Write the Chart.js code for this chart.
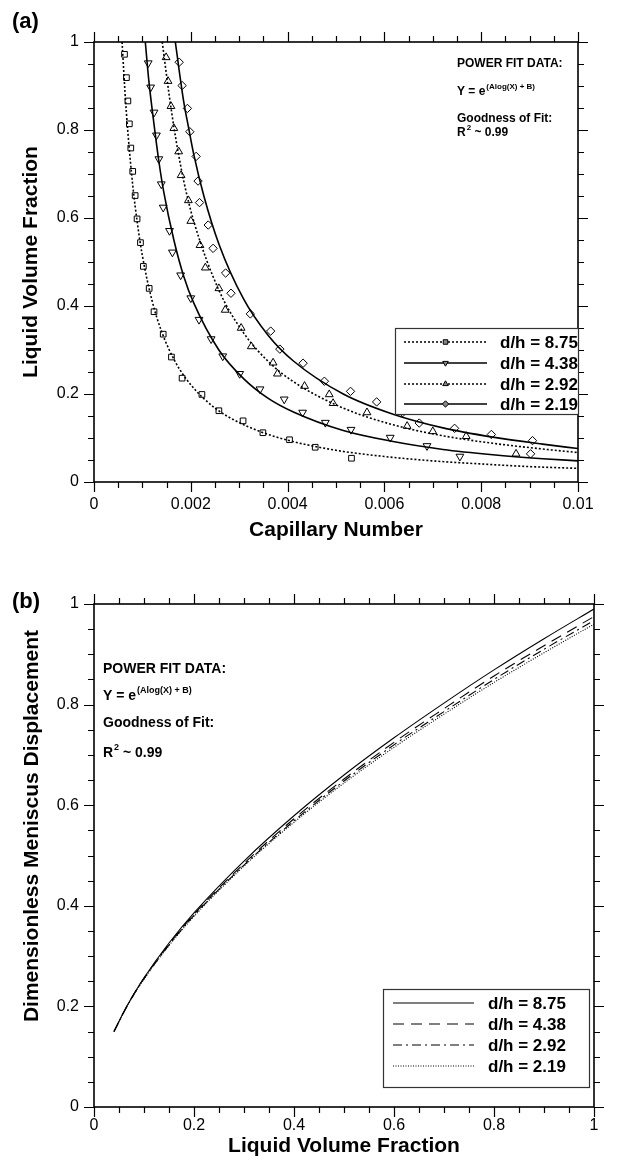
<!DOCTYPE html>
<html>
<head>
<meta charset="utf-8">
<script src="https://cdn.jsdelivr.net/npm/chart.js@4.4.1/dist/chart.umd.min.js"></script>
<style>
  html, body { margin: 0; padding: 0; background: #fff; }
  #chartA { position: absolute; left: 0; top: 0; }
  #chartB { position: absolute; left: 0; top: 560px; }
</style>
</head>
<body>
<canvas id="chartA" width="633" height="560"></canvas>
<canvas id="chartB" width="633" height="603"></canvas>
<script>
// ---- panel (a): liquid volume fraction vs capillary number ----
// power fit curves
const fitX875 = [0.00058, 0.00064, 0.0007, 0.0008, 0.0009, 0.001, 0.0012, 0.0014, 0.0017, 0.002, 0.0025, 0.003, 0.0035, 0.004, 0.005, 0.006, 0.007, 0.008, 0.009, 0.01];
const fitY875 = [1.0, 0.887, 0.795, 0.675, 0.585, 0.514, 0.412, 0.341, 0.269, 0.221, 0.168, 0.135, 0.112, 0.095, 0.072, 0.058, 0.048, 0.041, 0.035, 0.031];
const fitX438 = [0.00106, 0.00113, 0.00124, 0.00134, 0.00144, 0.00165, 0.00185, 0.00206, 0.00258, 0.00309, 0.0036, 0.00412, 0.00515, 0.00618, 0.00721, 0.00824, 0.00927, 0.01];
const fitY438 = [1.0, 0.915, 0.813, 0.729, 0.660, 0.550, 0.469, 0.407, 0.300, 0.235, 0.190, 0.159, 0.117, 0.092, 0.074, 0.062, 0.053, 0.048];
const fitX292 = [0.00141, 0.00155, 0.00165, 0.00175, 0.00185, 0.00206, 0.00258, 0.00309, 0.0036, 0.00412, 0.00515, 0.00618, 0.00721, 0.00824, 0.00927, 0.01];
const fitY292 = [1.0, 0.882, 0.807, 0.743, 0.686, 0.593, 0.436, 0.339, 0.274, 0.228, 0.168, 0.130, 0.105, 0.088, 0.075, 0.067];
const fitX219 = [0.00168, 0.00185, 0.00196, 0.00206, 0.00227, 0.00258, 0.00309, 0.0036, 0.00412, 0.00515, 0.00618, 0.00721, 0.00824, 0.00927, 0.01];
const fitY219 = [1.0, 0.867, 0.802, 0.745, 0.650, 0.541, 0.416, 0.333, 0.275, 0.200, 0.154, 0.123, 0.102, 0.086, 0.076];

// measured points
const ptsX875 = [0.00063, 0.00067, 0.0007, 0.00073, 0.00076, 0.0008, 0.00085, 0.00089, 0.00096, 0.00102, 0.00114, 0.00124, 0.00143, 0.0016, 0.00182, 0.00223, 0.00258, 0.00308, 0.00349, 0.00404, 0.00457, 0.00532];
const ptsY875 = [0.972, 0.919, 0.866, 0.814, 0.759, 0.706, 0.651, 0.598, 0.544, 0.49, 0.44, 0.387, 0.336, 0.284, 0.236, 0.199, 0.162, 0.139, 0.112, 0.096, 0.079, 0.054];
const ptsX438 = [0.00112, 0.00117, 0.00124, 0.00129, 0.00134, 0.00139, 0.00143, 0.00156, 0.00162, 0.00179, 0.002, 0.00217, 0.00242, 0.00266, 0.00301, 0.00343, 0.00393, 0.00431, 0.00478, 0.00531, 0.00612, 0.00688, 0.00756];
const ptsY438 = [0.952, 0.897, 0.84, 0.788, 0.734, 0.677, 0.624, 0.571, 0.522, 0.47, 0.418, 0.369, 0.325, 0.286, 0.246, 0.211, 0.188, 0.158, 0.135, 0.119, 0.101, 0.082, 0.058];
const ptsX292 = [0.00149, 0.00153, 0.00159, 0.00165, 0.00175, 0.0018, 0.00195, 0.002, 0.00219, 0.0023, 0.00258, 0.00271, 0.00304, 0.00325, 0.0037, 0.00379, 0.00435, 0.00486, 0.00494, 0.00564, 0.00647, 0.007, 0.00769, 0.00872];
const ptsY292 = [0.965, 0.911, 0.854, 0.804, 0.751, 0.697, 0.64, 0.593, 0.538, 0.487, 0.44, 0.391, 0.35, 0.308, 0.271, 0.246, 0.218, 0.199, 0.179, 0.158, 0.127, 0.115, 0.104, 0.064];
const ptsX219 = [0.00176, 0.00182, 0.00193, 0.00198, 0.00211, 0.00215, 0.00218, 0.00236, 0.00246, 0.00272, 0.00283, 0.00323, 0.00365, 0.00384, 0.00432, 0.00476, 0.0053, 0.00584, 0.00638, 0.00672, 0.00745, 0.00821, 0.00906, 0.00902];
const ptsY219 = [0.954, 0.901, 0.849, 0.796, 0.74, 0.684, 0.635, 0.584, 0.531, 0.475, 0.429, 0.382, 0.343, 0.302, 0.27, 0.229, 0.206, 0.182, 0.158, 0.134, 0.122, 0.108, 0.094, 0.064];

// ---- panel (b): meniscus displacement vs liquid volume fraction ----
const lvfX = [0.04, 0.06, 0.08, 0.1, 0.15, 0.2, 0.3, 0.4, 0.5, 0.6, 0.7, 0.8, 0.9, 1.0];
const disp875 = [0.150, 0.190, 0.225, 0.257, 0.326, 0.386, 0.489, 0.579, 0.660, 0.734, 0.803, 0.869, 0.931, 0.990];
const disp438 = [0.150, 0.190, 0.225, 0.256, 0.324, 0.383, 0.484, 0.573, 0.652, 0.725, 0.792, 0.857, 0.917, 0.975];
const disp292 = [0.150, 0.189, 0.224, 0.255, 0.322, 0.381, 0.481, 0.569, 0.648, 0.720, 0.786, 0.850, 0.910, 0.967];
const disp219 = [0.150, 0.189, 0.224, 0.254, 0.321, 0.379, 0.479, 0.566, 0.644, 0.715, 0.781, 0.844, 0.903, 0.960];

const seriesLabels = ['d/h = 8.75', 'd/h = 4.38', 'd/h = 2.92', 'd/h = 2.19'];

const FONT = "'Liberation Sans', Arial, Helvetica, sans-serif";

function xy(xs, ys) {
    return xs.map((x, i) => ({ x: x, y: ys[i] }));
}

function fmt(v) {
    return String(+v.toFixed(4));
}

// box, outward major/minor ticks on all four sides
const frameTicks = {
    id: 'frameTicks',
    afterDraw(chart, args, o) {
        const { ctx, chartArea: a } = chart;
        const x = chart.scales.x, y = chart.scales.y;
        ctx.save();
        ctx.strokeStyle = '#000';
        ctx.lineWidth = 1.2;
        ctx.beginPath();
        const nx = Math.round((x.max - x.min) / o.xMinor);
        for (let i = 0; i <= nx; i++) {
            const px = Math.round(x.getPixelForValue(x.min + i * o.xMinor)) + 0.5;
            const len = i % o.xEvery === 0 ? 10 : 6;
            ctx.moveTo(px, a.bottom); ctx.lineTo(px, a.bottom + len);
            ctx.moveTo(px, a.top); ctx.lineTo(px, a.top - len);
        }
        const ny = Math.round((y.max - y.min) / o.yMinor);
        for (let i = 0; i <= ny; i++) {
            const py = Math.round(y.getPixelForValue(y.min + i * o.yMinor)) + 0.5;
            const len = i % o.yEvery === 0 ? 10 : 6;
            ctx.moveTo(a.left, py); ctx.lineTo(a.left - len, py);
            ctx.moveTo(a.right, py); ctx.lineTo(a.right + len, py);
        }
        ctx.stroke();
        ctx.lineWidth = 1.6;
        ctx.strokeRect(a.left, a.top, a.right - a.left, a.bottom - a.top);
        ctx.restore();
    }
};

// panel letter, fit annotation, optional side title and boxed legend
const notes = {
    id: 'notes',
    afterDraw(chart, args, o) {
        const ctx = chart.ctx;
        ctx.save();
        ctx.fillStyle = '#000';
        ctx.textBaseline = 'alphabetic';
        ctx.textAlign = 'left';
        ctx.font = 'bold 22px ' + FONT;
        ctx.fillText(o.panel, 12, o.panelY);

        if (o.sideTitle) {
            ctx.save();
            ctx.translate(o.sideTitle.x, o.sideTitle.y);
            ctx.rotate(-Math.PI / 2);
            ctx.textAlign = 'center';
            ctx.textBaseline = 'middle';
            ctx.font = 'bold ' + o.sideTitle.size + 'px ' + FONT;
            ctx.fillText(o.sideTitle.text, 0, 0);
            ctx.restore();
        }

        o.lines.forEach(line => {
            let cx = line.x;
            line.parts.forEach(p => {
                ctx.font = 'bold ' + p.s + 'px ' + FONT;
                ctx.fillText(p.t, cx, line.y - (p.rise || 0));
                cx += ctx.measureText(p.t).width + (p.gap || 0);
            });
        });

        const L = o.legend;
        ctx.fillStyle = '#fff';
        ctx.fillRect(L.box[0], L.box[1], L.box[2] - L.box[0], L.box[3] - L.box[1]);
        ctx.strokeStyle = '#333';
        ctx.lineWidth = 1.2;
        ctx.strokeRect(L.box[0] + 0.5, L.box[1] + 0.5, L.box[2] - L.box[0], L.box[3] - L.box[1]);
        L.items.forEach((it, i) => {
            const ry = L.rows[i];
            const ds = chart.data.datasets[it.line];
            ctx.save();
            ctx.strokeStyle = ds.borderColor;
            ctx.lineWidth = ds.borderWidth;
            ctx.setLineDash(ds.borderDash || []);
            ctx.beginPath();
            ctx.moveTo(L.from, ry);
            ctx.lineTo(L.to, ry);
            ctx.stroke();
            ctx.restore();
            if (it.marker !== undefined) {
                const m = chart.data.datasets[it.marker];
                ctx.save();
                ctx.strokeStyle = '#000';
                ctx.fillStyle = '#888';
                ctx.lineWidth = 1;
                Chart.helpers.drawPoint(ctx, {
                    pointStyle: m.pointStyle,
                    rotation: m.pointRotation || 0,
                    radius: 3.2,
                    borderWidth: 1
                }, (L.from + L.to) / 2, ry);
                ctx.restore();
            }
            ctx.fillStyle = '#000';
            ctx.font = 'bold 17px ' + FONT;
            ctx.textBaseline = 'middle';
            ctx.fillText(seriesLabels[i], L.textX, ry + 1);
            ctx.textBaseline = 'alphabetic';
        });
        ctx.restore();
    }
};

function fitLine(xs, ys, dash, width) {
    return {
        data: xy(xs, ys),
        borderColor: '#000',
        borderWidth: width,
        borderDash: dash,
        pointRadius: 0,
        cubicInterpolationMode: 'monotone',
        fill: false
    };
}

function marks(xs, ys, style, rot, r) {
    return {
        data: xy(xs, ys),
        showLine: false,
        pointStyle: style,
        pointRotation: rot,
        pointRadius: r,
        pointBorderWidth: 1,
        pointBorderColor: '#000',
        pointBackgroundColor: 'rgba(255,255,255,0)'
    };
}

function axisX(min, max, step, title, height, tickPad, titlePad) {
    return {
        type: 'linear', min: min, max: max,
        afterFit: s => { s.height = height; },
        grid: { display: false, drawTicks: false },
        border: { display: false },
        ticks: { stepSize: step, padding: tickPad, maxRotation: 0, color: '#000', font: { family: FONT, size: 16 }, callback: fmt },
        title: { display: true, text: title, color: '#000', font: { family: FONT, size: 21, weight: 'bold' }, padding: { top: 0, bottom: titlePad } }
    };
}

function axisY(title) {
    return {
        type: 'linear', min: 0, max: 1,
        afterFit: s => { s.width = 94; },
        grid: { display: false, drawTicks: false },
        border: { display: false },
        ticks: { stepSize: 0.2, padding: 15, color: '#000', font: { family: FONT, size: 16 }, callback: fmt },
        title: { display: !!title, text: title || '', color: '#000', font: { family: FONT, size: 21, weight: 'bold' }, padding: { top: 19, bottom: 0 } }
    };
}

const dotted = [2, 2];

new Chart(document.getElementById('chartA').getContext('2d'), {
    type: 'line',
    data: {
        datasets: [
            fitLine(fitX875, fitY875, dotted, 1.6),
            fitLine(fitX438, fitY438, [], 1.6),
            fitLine(fitX292, fitY292, dotted, 1.6),
            fitLine(fitX219, fitY219, [], 1.6),
            marks(ptsX875, ptsY875, 'rect', 0, 4),
            marks(ptsX438, ptsY438, 'triangle', 180, 4.5),
            marks(ptsX292, ptsY292, 'triangle', 0, 4.5),
            marks(ptsX219, ptsY219, 'rectRot', 0, 4.2)
        ]
    },
    options: {
        responsive: false,
        animation: false,
        layout: { padding: { top: 42, right: 55, left: 0, bottom: 0 } },
        scales: {
            x: axisX(0, 0.01, 0.002, 'Capillary Number', 78, 13, 17),
            y: axisY('Liquid Volume Fraction')
        },
        plugins: {
            legend: { display: false },
            tooltip: { enabled: false },
            frameTicks: { xMinor: 0.0005, xEvery: 4, yMinor: 0.05, yEvery: 4 },
            notes: {
                panel: '(a)', panelY: 28,
                lines: [
                    { x: 457, y: 67, parts: [{ t: 'POWER FIT DATA:', s: 12 }] },
                    { x: 457, y: 95, parts: [{ t: 'Y = e', s: 12, gap: 1 }, { t: '(Alog(X) + B)', s: 8, rise: 6 }] },
                    { x: 457, y: 122, parts: [{ t: 'Goodness of Fit:', s: 12 }] },
                    { x: 457, y: 136, parts: [{ t: 'R', s: 12, gap: 1 }, { t: '2', s: 8, rise: 6 }, { t: ' ~ 0.99', s: 12 }] }
                ],
                legend: {
                    box: [395, 328, 578, 414],
                    rows: [342, 363, 384, 404],
                    from: 404, to: 487, textX: 500,
                    items: [
                        { line: 0, marker: 4 },
                        { line: 1, marker: 5 },
                        { line: 2, marker: 6 },
                        { line: 3, marker: 7 }
                    ]
                }
            }
        }
    },
    plugins: [frameTicks, notes]
});

new Chart(document.getElementById('chartB').getContext('2d'), {
    type: 'line',
    data: {
        datasets: [
            fitLine(lvfX, disp875, [], 1.1),
            fitLine(lvfX, disp438, [11, 7], 1.1),
            fitLine(lvfX, disp292, [9, 4, 2, 4], 1.1),
            fitLine(lvfX, disp219, [1, 1.5], 1.1)
        ]
    },
    options: {
        responsive: false,
        animation: false,
        layout: { padding: { top: 44, right: 39, left: 0, bottom: 0 } },
        scales: {
            x: axisX(0, 1, 0.2, 'Liquid Volume Fraction', 56, 9, 4),
            y: axisY('')
        },
        plugins: {
            legend: { display: false },
            tooltip: { enabled: false },
            frameTicks: { xMinor: 0.05, xEvery: 4, yMinor: 0.05, yEvery: 4 },
            notes: {
                panel: '(b)', panelY: 48,
                sideTitle: { text: 'Dimensionless Meniscus Displacement', x: 32, y: 266, size: 21 },
                lines: [
                    { x: 103, y: 113, parts: [{ t: 'POWER FIT DATA:', s: 14 }] },
                    { x: 103, y: 140, parts: [{ t: 'Y = e', s: 14, gap: 1 }, { t: '(Alog(X) + B)', s: 9, rise: 7 }] },
                    { x: 103, y: 167, parts: [{ t: 'Goodness of Fit:', s: 14 }] },
                    { x: 103, y: 197, parts: [{ t: 'R', s: 14, gap: 1 }, { t: '2', s: 9, rise: 7 }, { t: ' ~ 0.99', s: 14 }] }
                ],
                legend: {
                    box: [383, 429, 589, 527],
                    rows: [443, 464, 485, 506],
                    from: 393, to: 474, textX: 488,
                    items: [
                        { line: 0 },
                        { line: 1 },
                        { line: 2 },
                        { line: 3 }
                    ]
                }
            }
        }
    },
    plugins: [frameTicks, notes]
});
</script>
</body>
</html>
